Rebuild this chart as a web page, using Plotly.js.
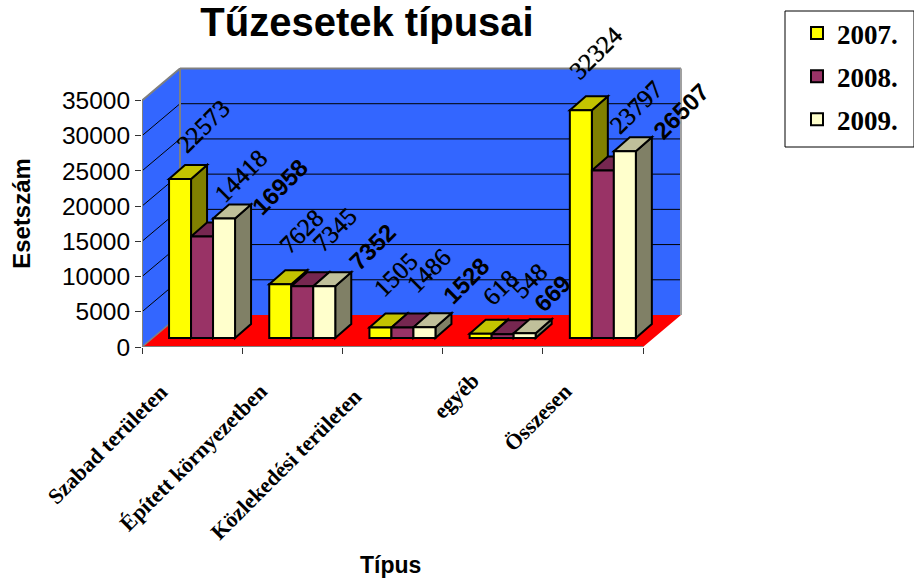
<!DOCTYPE html>
<html><head><meta charset="utf-8">
<script src="https://cdn.plot.ly/plotly-3.0.1.min.js"></script>
<style>html,body{margin:0;padding:0;background:#fff}</style></head>
<body><div id="chart" style="width:914px;height:578px"></div>
<script>
const categories = ["Szabad területen","Épített környezetben","Közlekedési területen","egyéb","Összesen"];
const series2007 = [22573, 7628, 1505, 618, 32324];
const series2008 = [14418, 7345, 1486, 548, 23797];
const series2009 = [16958, 7352, 1528, 669, 26507];
const seriesNames = ["2007.","2008.","2009."];
const yTicks = [0,5000,10000,15000,20000,25000,30000,35000];

const front = ["#FFFF00","#993366","#FFFFCC"];
const topC  = ["#C4C400","#762750","#C0C09A"];
const sideC = ["#808000","#4D1A33","#808066"];
const seriesValues = [series2007, series2008, series2009];

// geometry (pixels)
const L=142, R=643, B=347, T35=100.5, plotR=684, plotT=60;
const pxX=(R-L)/5, pxY=(B-T35)/35000;
const wx=38/pxX, wy=32/pxY;          // wall depth
const dx=16/pxX, dy=14/pxY;          // bar depth
const base=9/pxY;                    // bars stand this far up the floor
const barW=22/pxX, barStart=0.27;
const xMax=(plotR-L)/pxX, yMax=(B-plotT)/pxY;

const gray="#808080";
const shapes=[];
const poly=(pts,fill,color,w)=>shapes.push({type:"path",xref:"x",yref:"y",layer:"below",
  path:"M"+pts.map(p=>p[0]+","+p[1]).join("L")+"Z",fillcolor:fill,line:{color:color,width:w}});
const seg=(x0,y0,x1,y1,color,w)=>shapes.push({type:"line",xref:"x",yref:"y",layer:"below",x0,y0,x1,y1,line:{color,width:w}});

// walls and floor
poly([[wx,wy],[wx,35000+wy],[5+wx,35000+wy],[5+wx,wy]],"#3366FF",gray,0);
poly([[0,0],[0,35000],[wx,35000+wy],[wx,wy]],"#3366FF",gray,0);
poly([[0,0],[5,0],[5+wx,wy],[wx,wy]],"#FF0000",gray,0);
yTicks.slice(1).forEach(v=>{
  seg(0,v,wx,v+wy,"#000",1);
  if(v<35000) seg(wx,v+wy,5+wx,v+wy,"#000",1);
});
seg(0,35000,wx,35000+wy,gray,2);
seg(wx,35000+wy,5+wx,35000+wy,gray,2);
seg(wx,wy,wx,35000+wy,gray,2);
seg(5+wx,wy,5+wx,35000+wy,"#A0A0A0",2);
seg(0,0,wx,wy,gray,1.5);
seg(0,0,0,35000,gray,2);
seg(0,0,5,0,gray,2);

// 3D faces of the bars
categories.forEach((c,i)=>{
  seriesValues.forEach((vals,j)=>{
    const x0=i+barStart+j*barW, x1=x0+barW, y1=base+vals[i];
    poly([[x1,base],[x1+dx,base+dy],[x1+dx,y1+dy],[x1,y1]],sideC[j],"#000",2);
    poly([[x0,y1],[x1,y1],[x1+dx,y1+dy],[x0+dx,y1+dy]],topC[j],"#000",2);
  });
});

const traces=seriesValues.map((vals,j)=>({
  type:"bar",name:seriesNames[j],legendgroup:seriesNames[j],
  x:categories.map((c,i)=>i+barStart+j*barW+barW/2),
  y:vals,base:categories.map(()=>base),width:barW,
  marker:{color:front[j],line:{color:"#000",width:2}},
  hoverinfo:"y",cliponaxis:false
}));

// data labels: where each label's centre sits in the reference, per series and category
const labelCentres=[
  [[204,126],[301,231],[396,275],[500,287],[596,52]],
  [[241,175],[335,230],[429,271],[530,281],[637,107]],
  [[280,186],[373,247],[466,280],[552,293],[682,111]]
];
const annotations=[];
categories.forEach((c,i)=>{
  seriesValues.forEach((vals,j)=>{
    const ax=i+barStart+j*barW, ay=base+vals[i];
    const cx=labelCentres[j][i][0], cy=labelCentres[j][i][1];
    annotations.push({xref:"x",yref:"y",x:ax,y:ay,
      xanchor:"center",yanchor:"middle",
      xshift:cx-(L+ax*pxX),yshift:(B-ay*pxY)-cy,
      text:String(vals[i]),textangle:-45,showarrow:false,borderpad:0,
      font:j==2?{family:"Liberation Sans",size:24,color:"#000",weight:"bold"}
               :{family:"Liberation Serif",size:25,color:"#000",shadow:"0 0 0.7px #000"}});
  });
});
// category labels
const catEnd=[[0.31,378],[1.31,378],[2.25,383],[3.43,366],[4.35,378]];
categories.forEach((c,i)=>{
  annotations.push({xref:"x",yref:"paper",x:catEnd[i][0],y:-(catEnd[i][1]-B)/(B-plotT),
    xanchor:"right",yanchor:"top",text:c,textangle:-45,showarrow:false,
    font:{family:"Liberation Serif",size:22,color:"#000",weight:"bold"},borderpad:0});
});

// legend box
shapes.push({type:"rect",xref:"paper",yref:"paper",
  x0:(785-L)/(plotR-L),x1:(914-L)/(plotR-L),
  y0:(B-147)/(B-plotT),y1:(B-11)/(B-plotT),line:{color:"#000",width:1},fillcolor:"#fff",layer:"below"});

const pad=n=>"\u00A0".repeat(n)+"\u200B";
const layout={
  width:914,height:578,paper_bgcolor:"#fff",plot_bgcolor:"rgba(0,0,0,0)",
  margin:{l:L,r:914-plotR,t:plotT,b:578-B,pad:0},
  barmode:"overlay",bargap:0,
  title:{text:"Tűzesetek típusai",font:{family:"Liberation Sans",size:40,color:"#000",weight:"bold"},
    x:367/914,xanchor:"center",y:1-22/578,yanchor:"middle"},
  xaxis:{range:[0,xMax],tickmode:"array",tickvals:[0,1,2,3,4,5],ticktext:["","","","","",""],
    ticks:"outside",ticklen:6,tickcolor:"#333",showgrid:false,zeroline:false,showline:false,
    title:{text:"Típus"+pad(7),font:{family:"Liberation Sans",size:23,color:"#000",weight:"bold"},standoff:202},automargin:false,fixedrange:true},
  yaxis:{range:[0,yMax],tickmode:"array",tickvals:yTicks,ticktext:yTicks.map(String),
    ticks:"outside",ticklen:6,tickcolor:"#333",showgrid:false,zeroline:false,showline:false,
    tickfont:{family:"Liberation Sans",size:24.5,color:"#000"},
    title:{text:"Esetszám"+pad(3),font:{family:"Liberation Sans",size:24,color:"#000",weight:"bold"},standoff:24},automargin:false,fixedrange:true},
  showlegend:true,
  legend:{xref:"container",yref:"container",x:797/914,xanchor:"left",y:1-9/578,yanchor:"top",bgcolor:"rgba(0,0,0,0)",borderwidth:0,
    traceorder:"grouped",tracegroupgap:5,itemclick:false,itemdoubleclick:false,
    entrywidth:55,entrywidthmode:"pixels",
    font:{family:"Liberation Serif",size:27,color:"#000",weight:"bold"}},
  shapes,annotations
};
Plotly.newPlot("chart",traces,layout,{displayModeBar:false,staticPlot:true});
</script></body></html>
